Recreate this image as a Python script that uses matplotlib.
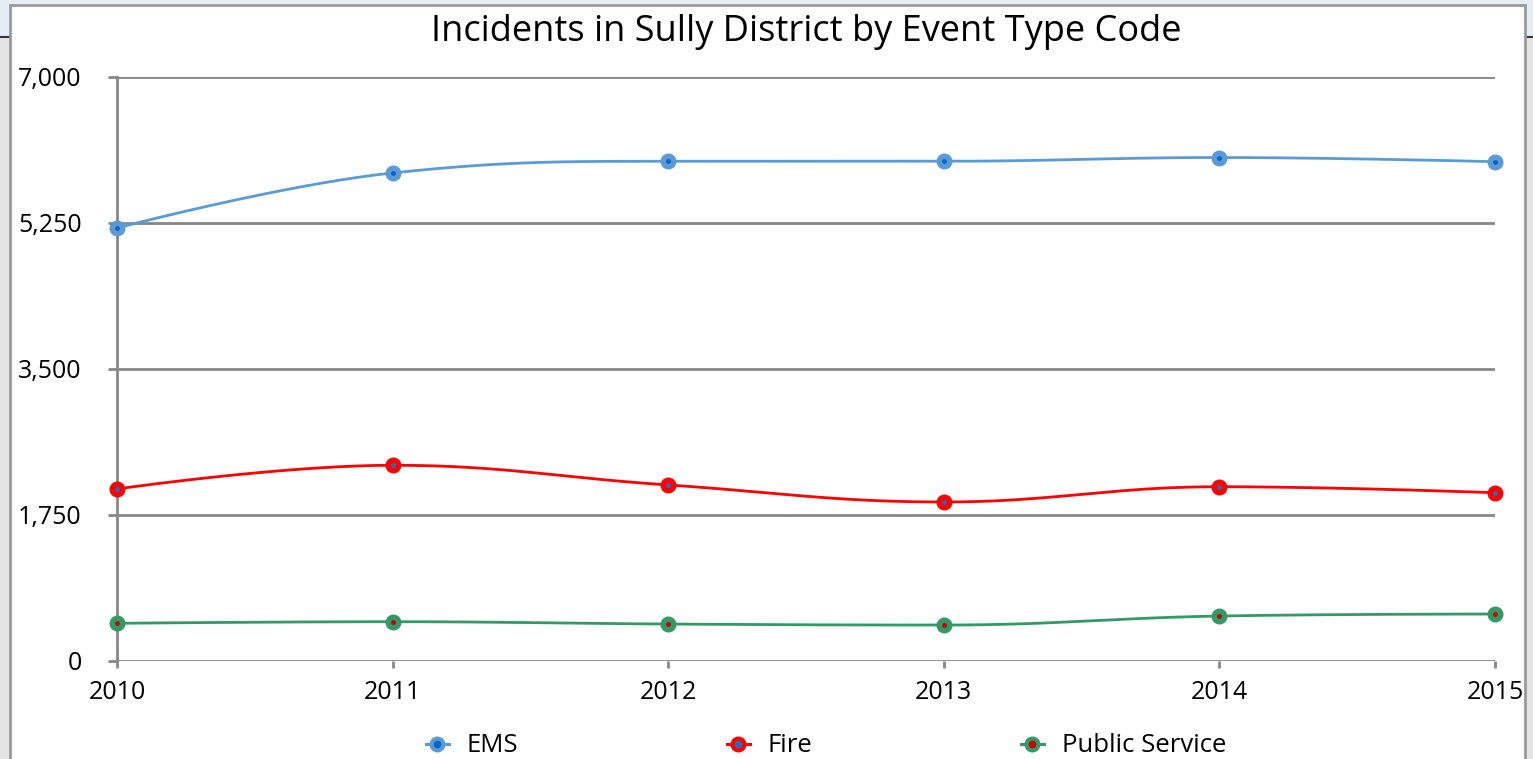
import numpy as np
import matplotlib
matplotlib.use("Agg")
import matplotlib.pyplot as plt
from matplotlib.patches import Rectangle
from matplotlib.lines import Line2D
from matplotlib.ticker import FuncFormatter
import matplotlib.transforms as mtransforms

plt.rcParams['font.family'] = ['Open Sans', 'DejaVu Sans']

# ---- data ----
years = [2010, 2011, 2012, 2013, 2014, 2015]
ems = [5190, 5850, 5990, 5990, 6035, 5985]
fire = [2062, 2346, 2110, 1906, 2089, 2017]
public_service = [452, 471, 443, 431, 539, 563]
series_names = ["EMS", "Fire", "Public Service"]
y_ticks = [0, 1750, 3500, 5250, 7000]

line_colors = ["#5b9bd5", "#ff0000", "#339966"]
dot_colors = ["#0066cc", "#1f6fbf", "#cc0000"]


def spline(xs, ys, smoothing=1.5, n=40):
    xs = np.asarray(xs, float)
    ys = np.asarray(ys, float)
    m = len(xs)
    lc = [(xs[i], ys[i]) for i in range(m)]
    rc = [(xs[i], ys[i]) for i in range(m)]
    for i in range(1, m - 1):
        px, py = xs[i], ys[i]
        lx, ly = xs[i - 1], ys[i - 1]
        nx, ny = xs[i + 1], ys[i + 1]
        d = smoothing + 1
        lcx = (smoothing * px + lx) / d
        lcy = (smoothing * py + ly) / d
        rcx = (smoothing * px + nx) / d
        rcy = (smoothing * py + ny) / d
        corr = (rcy - lcy) * (rcx - px) / (rcx - lcx) + py - rcy
        lcy += corr; rcy += corr
        if lcy > ly and lcy > py:
            lcy = max(ly, py); rcy = 2 * py - lcy
        elif lcy < ly and lcy < py:
            lcy = min(ly, py); rcy = 2 * py - lcy
        if rcy > ny and rcy > py:
            rcy = max(ny, py); lcy = 2 * py - rcy
        elif rcy < ny and rcy < py:
            rcy = min(ny, py); lcy = 2 * py - rcy
        lc[i] = (lcx, lcy); rc[i] = (rcx, rcy)
    outx, outy = [], []
    t = np.linspace(0, 1, n)
    for i in range(m - 1):
        p0 = np.array([xs[i], ys[i]])
        p1 = np.array(rc[i])
        p2 = np.array(lc[i + 1])
        p3 = np.array([xs[i + 1], ys[i + 1]])
        b = ((1 - t) ** 3)[:, None] * p0 + (3 * (1 - t) ** 2 * t)[:, None] * p1 \
            + (3 * (1 - t) * t ** 2)[:, None] * p2 + (t ** 3)[:, None] * p3
        outx.extend(b[:, 0]); outy.extend(b[:, 1])
    return np.array(outx), np.array(outy)


W, H = 1533, 759
fig = plt.figure(figsize=(W / 100, H / 100), dpi=100)
fig.patch.set_facecolor("#e4e4e4")

# page background pieces
fig.patches.append(Rectangle((0, 1 - 37 / H), 1, 37 / H, transform=fig.transFigure,
                             facecolor="#e6edf7", edgecolor="none", zorder=0))
fig.lines.append(Line2D([0, 1], [1 - 37 / H, 1 - 37 / H], transform=fig.transFigure,
                        color="#333333", lw=1.5, zorder=0.5))
fig.patches.append(Rectangle((10 / W, -0.01), 1515 / W, 1 - 5 / H + 0.01, transform=fig.transFigure,
                             facecolor="white", edgecolor="#999999", lw=2, zorder=1))

ax = fig.add_axes([117 / W, (H - 661) / H, (1495 - 117) / W, (661 - 77) / H])
ax.set_zorder(2)
ax.set_facecolor("none")

handles = []
for name, vals, lc_, dc in zip(series_names, [ems, fire, public_service], line_colors, dot_colors):
    sx, sy = spline(years, vals)
    ax.plot(sx, sy, color=lc_, lw=2.0, solid_capstyle="round", zorder=3, clip_on=False)
    ax.plot(years, vals, linestyle="none", marker="o", markersize=11.5, markerfacecolor=lc_,
            markeredgewidth=0, zorder=4, clip_on=False)
    ax.plot(years, vals, linestyle="none", marker="o", markersize=3.5, markerfacecolor=dc,
            markeredgewidth=0, zorder=5, clip_on=False)
    h1 = Line2D([], [], color=lc_, lw=2.2, marker="o", markersize=11.5, markerfacecolor=lc_,
                markeredgewidth=0)
    h2 = Line2D([], [], linestyle="none", marker="o", markersize=5.5, markerfacecolor=dc,
                markeredgewidth=0)
    handles.append((h1, h2))

ax.set_xlim(2010, 2015)
ax.set_ylim(0, 7000)
ax.set_xticks(years)
ax.set_yticks(y_ticks)
ax.yaxis.set_major_formatter(FuncFormatter(lambda v, p: f"{int(v):,}"))
ax.grid(axis="y", color="#888888", lw=2)
ax.set_axisbelow(True)
for s in ["top", "right", "bottom"]:
    ax.spines[s].set_visible(False)
ax.spines["left"].set_color("#888888")
ax.spines["left"].set_linewidth(2)
ax.spines["left"].set_zorder(2.5)
ax.tick_params(axis="y", length=6.5, width=2, color="#888888", pad=19, labelsize=18)
ax.tick_params(axis="x", length=5, width=2, color="#888888", pad=9, labelsize=18)
ydown = mtransforms.ScaledTranslation(0, -2 / 72, fig.dpi_scale_trans)
for lbl in ax.get_yticklabels():
    lbl.set_verticalalignment("center")
    lbl.set_transform(lbl.get_transform() + ydown)

ax.set_title("Incidents in Sully District by Event Type Code", fontsize=26, pad=26)

leg = fig.legend(handles, series_names, loc="center", bbox_to_anchor=(826 / W, 13 / H), ncol=3,
                 frameon=False, fontsize=18.5, handlelength=0.9, handletextpad=0.7,
                 columnspacing=8.1, borderaxespad=0, borderpad=0)
leg.set_zorder(3)

fig.savefig("out.png", dpi=100)
